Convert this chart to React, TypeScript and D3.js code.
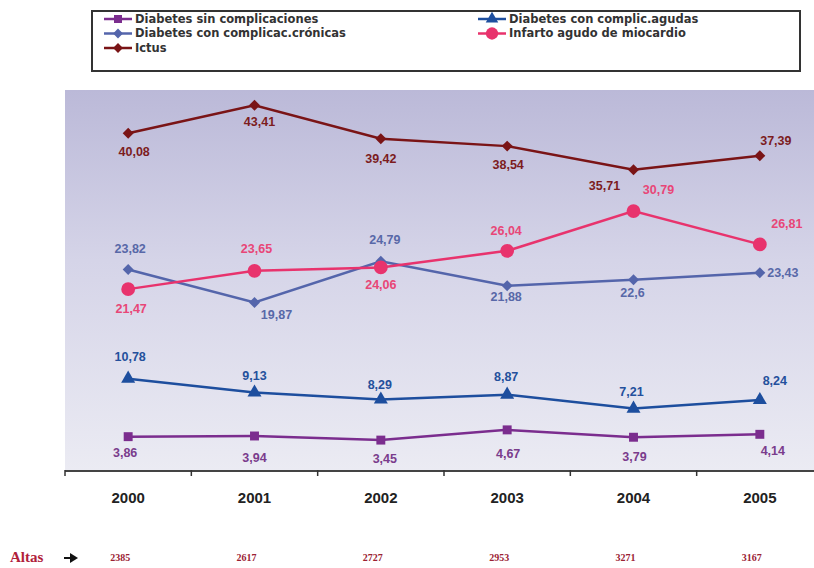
import { useEffect, useRef } from 'react';
import * as d3 from 'd3';

// categories
const years = ['2000', '2001', '2002', '2003', '2004', '2005'];
const altas = ['2385', '2617', '2727', '2953', '3271', '3167'];

// series values
const sinComplic = [3.86, 3.94, 3.45, 4.67, 3.79, 4.14];
const complicAgudas = [10.78, 9.13, 8.29, 8.87, 7.21, 8.24];
const complicCronicas = [23.82, 19.87, 24.79, 21.88, 22.6, 23.43];
const infarto = [21.47, 23.65, 24.06, 26.04, 30.79, 26.81];
const ictus = [40.08, 43.41, 39.42, 38.54, 35.71, 37.39];

interface Series {
  name: string;
  values: number[];
  color: string;
  labelColor: string;
  symbol: d3.SymbolType;
  size: number;
  rotate: number;
  // label offsets [dx, dy] relative to the point
  offsets: [number, number][];
}

const series: Series[] = [
  {
    name: 'Diabetes sin complicaciones', values: sinComplic, color: '#7b2d8e', labelColor: '#7a3c8c',
    symbol: d3.symbolSquare, size: 80, rotate: 0,
    offsets: [[-3, 17], [0, 23], [4, 20], [1, 25], [1, 20], [13, 17]],
  },
  {
    name: 'Diabetes con complic.agudas', values: complicAgudas, color: '#1d4e9e', labelColor: '#24509c',
    symbol: d3.symbolTriangle, size: 85, rotate: 0,
    offsets: [[2, -21], [0, -16], [-1, -14], [-1, -17], [-2, -16], [15, -18]],
  },
  {
    name: 'Diabetes con complicac.crónicas', values: complicCronicas, color: '#5465ab', labelColor: '#5868a8',
    symbol: d3.symbolSquare, size: 60, rotate: 45,
    offsets: [[2, -20], [22, 13], [4, -21], [-1, 12], [-1, 14], [23, 1]],
  },
  {
    name: 'Infarto agudo de miocardio', values: infarto, color: '#e8336d', labelColor: '#e84677',
    symbol: d3.symbolCircle, size: 150, rotate: 0,
    offsets: [[3, 21], [2, -21], [0, 18], [-1, -19], [25, -20], [27, -20]],
  },
  {
    name: 'Ictus', values: ictus, color: '#7a1416', labelColor: '#7c1c1e',
    symbol: d3.symbolSquare, size: 60, rotate: 45,
    offsets: [[6, 19], [5, 17], [0, 21], [1, 20], [-29, 17], [16, -14]],
  },
];

const W = 814;
const H = 568;

export default function App() {
  const svgRef = useRef<SVGSVGElement>(null);

  useEffect(() => {
    if (!svgRef.current) return;
    const svg = d3.select(svgRef.current);
    svg.selectAll('*').remove();

    const plot = { left: 65, top: 90, right: 823, bottom: 470 };
    const font = '"Liberation Sans", Arial, sans-serif';

    const x = d3.scaleBand().domain(years).range([plot.left, plot.right]);
    const y = d3.scaleLinear().domain([0, 45]).range([469, 92]);
    const cx = (d: string) => x(d)! + x.bandwidth() / 2;

    // background gradient
    const defs = svg.append('defs');
    const grad = defs.append('linearGradient')
      .attr('id', 'bg').attr('x1', 0).attr('y1', 0).attr('x2', 0).attr('y2', 1);
    grad.append('stop').attr('offset', '0%').attr('stop-color', '#bbb9d8');
    grad.append('stop').attr('offset', '45%').attr('stop-color', '#d5d4e8');
    grad.append('stop').attr('offset', '100%').attr('stop-color', '#ebebf3');

    svg.append('rect')
      .attr('x', plot.left).attr('y', plot.top)
      .attr('width', W - plot.left).attr('height', plot.bottom - plot.top)
      .attr('fill', 'url(#bg)');

    // x axis
    svg.append('line')
      .attr('x1', plot.left).attr('x2', W)
      .attr('y1', plot.bottom + 1).attr('y2', plot.bottom + 1)
      .attr('stroke', '#444').attr('stroke-width', 2);
    years.forEach(d => {
      svg.append('line')
        .attr('x1', x(d)!).attr('x2', x(d)!)
        .attr('y1', plot.bottom).attr('y2', plot.bottom + 6)
        .attr('stroke', '#333').attr('stroke-width', 1.5);
      svg.append('text')
        .attr('x', cx(d)).attr('y', 503)
        .attr('text-anchor', 'middle')
        .style('font-family', font).style('font-weight', 'bold').style('font-size', '15px')
        .style('fill', '#222')
        .text(d);
    });

    // lines, markers, labels
    const line = d3.line<number>()
      .x((_, i) => cx(years[i]))
      .y(v => y(v));

    series.forEach(s => {
      svg.append('path')
        .datum(s.values)
        .attr('d', line)
        .attr('fill', 'none')
        .attr('stroke', s.color)
        .attr('stroke-width', 2.5);

      svg.selectAll(null)
        .data(s.values)
        .enter()
        .append('path')
        .attr('d', d3.symbol(s.symbol, s.size)())
        .attr('transform', (v, i) => `translate(${cx(years[i])},${y(v)}) rotate(${s.rotate})`)
        .attr('fill', s.color);

      svg.selectAll(null)
        .data(s.values)
        .enter()
        .append('text')
        .attr('x', (_, i) => cx(years[i]) + s.offsets[i][0])
        .attr('y', (v, i) => y(v) + s.offsets[i][1])
        .attr('text-anchor', 'middle')
        .attr('dominant-baseline', 'middle')
        .style('font-family', font).style('font-weight', 'bold').style('font-size', '12.5px')
        .style('fill', s.labelColor)
        .text(v => String(v).replace('.', ','));
    });

    // legend
    const lg = svg.append('g');
    lg.append('rect')
      .attr('x', 92).attr('y', 11).attr('width', 708).attr('height', 60)
      .attr('fill', '#fff').attr('stroke', '#333').attr('stroke-width', 2);
    const legendPos: [number, number][] = [[104, 19], [478, 19], [104, 33.5], [478, 33.5], [104, 48]];
    series.forEach((s, i) => {
      const [lx, ly] = legendPos[i];
      lg.append('line')
        .attr('x1', lx).attr('x2', lx + 28).attr('y1', ly).attr('y2', ly)
        .attr('stroke', s.color).attr('stroke-width', 2.5);
      lg.append('path')
        .attr('d', d3.symbol(s.symbol, s.size * 0.8)())
        .attr('transform', `translate(${lx + 14},${ly}) rotate(${s.rotate})`)
        .attr('fill', s.color);
      lg.append('text')
        .attr('x', lx + 31).attr('y', ly)
        .attr('dominant-baseline', 'middle')
        .style('font-family', '"DejaVu Sans", Verdana, sans-serif').style('font-weight', 'bold')
        .style('font-size', '11.5px')
        .style('fill', '#333')
        .text(s.name);
    });

    // altas row
    svg.append('text')
      .attr('x', 10).attr('y', 562)
      .style('font-family', '"Liberation Serif", serif').style('font-weight', 'bold').style('font-size', '15px')
      .style('fill', '#b0203a')
      .text('Altas');
    svg.append('line')
      .attr('x1', 64).attr('x2', 72).attr('y1', 558).attr('y2', 558)
      .attr('stroke', '#111').attr('stroke-width', 2);
    svg.append('path')
      .attr('d', 'M70,553 L78,558 L70,563 Z')
      .attr('fill', '#111');
    svg.selectAll(null)
      .data(altas)
      .enter()
      .append('text')
      .attr('x', (_, i) => cx(years[i]) - 8)
      .attr('y', 561)
      .attr('text-anchor', 'middle')
      .style('font-family', '"Liberation Serif", serif').style('font-weight', 'bold').style('font-size', '10px')
      .style('fill', '#9b2233')
      .text(d => d);
  }, []);

  return (
    <div style={{ position: 'absolute', left: 0, top: 0 }}>
      <svg ref={svgRef} width={W} height={H} style={{ display: 'block', background: '#fff' }} />
    </div>
  );
}
